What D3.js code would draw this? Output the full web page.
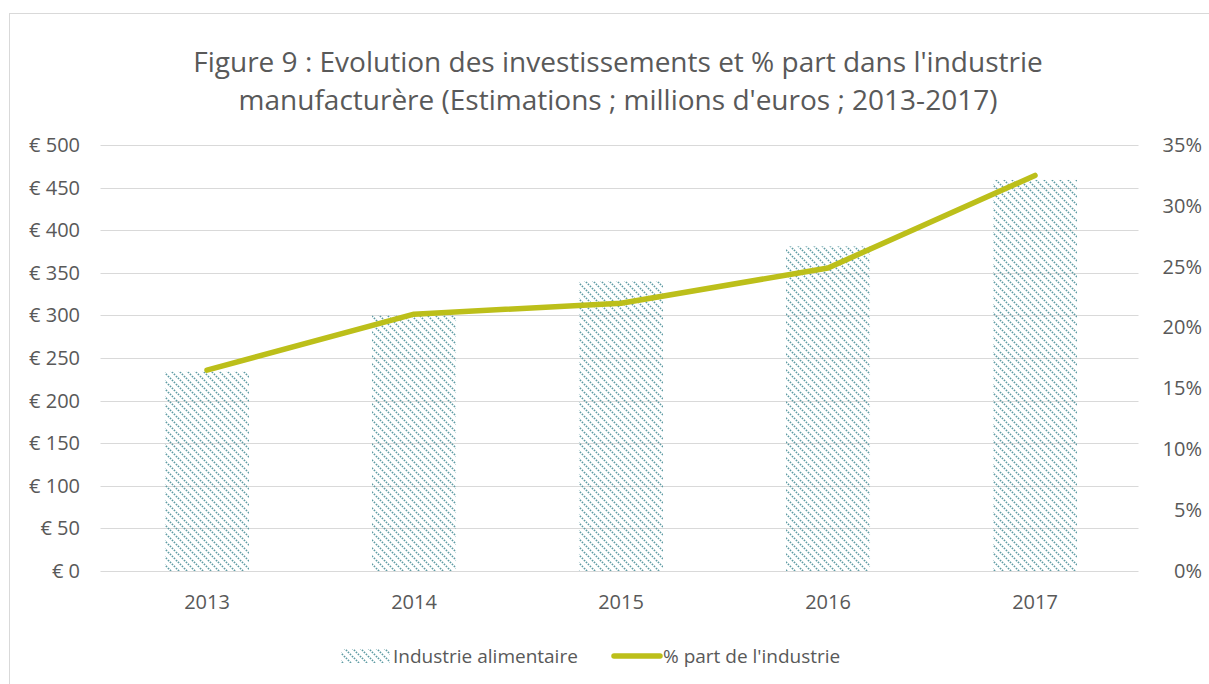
<!DOCTYPE html>
<html><head><meta charset="utf-8">
<script src="https://cdn.jsdelivr.net/npm/d3@7"></script>
<style>body{margin:0;background:#fff;}text{font-family:"Open Sans",sans-serif;fill:#595959;}</style>
</head><body>
<svg id="c" width="1209" height="684"></svg>
<script>
const categories = ["2013","2014","2015","2016","2017"];
const investments = [234, 300, 340, 381, 459];
const sharePct = [16.5, 21.1, 22.0, 24.9, 32.5];
const leftTicks = [0,50,100,150,200,250,300,350,400,450,500];
const rightTicks = [0,5,10,15,20,25,30,35];
const titleLines = ["Figure 9 : Evolution des investissements et % part dans l'industrie","manufacturère (Estimations ; millions d'euros ; 2013-2017)"];
const legendLabels = ["Industrie alimentaire","% part de l'industrie"];

const svg = d3.select("#c");
const defs = svg.append("defs");
const pat = defs.append("pattern").attr("id","hatch").attr("patternUnits","userSpaceOnUse")
  .attr("width",8).attr("height",8);
pat.append("path").attr("d","M-2,-2 L10,10 M-2,6 L2,10 M6,-2 L10,2")
  .attr("stroke","#5f9ca4").attr("stroke-width",1.7).attr("stroke-dasharray","1.5 1.3");

svg.append("rect").attr("x",9.5).attr("y",13.5).attr("width",1220).attr("height",690)
  .attr("fill","none").attr("stroke","#d9d9d9");

const x0 = 103.5, x1 = 1138.5, yTop = 145, yBot = 571;
const x = d3.scaleBand().domain(categories).range([x0,x1]).paddingInner(0.594).paddingOuter(0.297);
const yL = d3.scaleLinear().domain([0,500]).range([yBot,yTop]);
const yR = d3.scaleLinear().domain([0,35]).range([yBot,yTop]);
const tickFont = 20;

// gridlines
svg.append("g").selectAll("line").data(leftTicks).join("line")
  .attr("x1",x0-3).attr("x2",x1).attr("y1",d=>Math.round(yL(d))+0.5).attr("y2",d=>Math.round(yL(d))+0.5)
  .attr("stroke","#d9d9d9").attr("stroke-width",1);

// left axis
const axL = svg.append("g").attr("transform",`translate(80,0)`)
  .call(d3.axisLeft(yL).tickValues(leftTicks).tickSize(0).tickPadding(0).tickFormat(d=>"€ "+d));
axL.select(".domain").remove();
axL.selectAll("text").attr("font-size",tickFont).style("font-family","'Open Sans',sans-serif").attr("fill","#595959");

// right axis
const axR = svg.append("g").attr("transform",`translate(1202,0)`)
  .call(d3.axisLeft(yR).tickValues(rightTicks).tickSize(0).tickPadding(0).tickFormat(d=>d+"%"));
axR.select(".domain").remove();
axR.selectAll("text").attr("font-size",tickFont).style("font-family","'Open Sans',sans-serif").attr("fill","#595959");

// bars
svg.append("g").selectAll("rect").data(investments).join("rect")
  .attr("x",(d,i)=>x(categories[i])).attr("width",x.bandwidth())
  .attr("y",d=>yL(d)).attr("height",d=>yBot-yL(d)).attr("fill","url(#hatch)");

// x axis
const axX = svg.append("g").attr("transform",`translate(0,${yBot+24})`)
  .call(d3.axisBottom(x).tickSize(0).tickPadding(0));
axX.select(".domain").remove();
axX.selectAll("text").attr("font-size",tickFont).style("font-family","'Open Sans',sans-serif").attr("fill","#595959");

// line
const line = d3.line().x((d,i)=>x(categories[i])+x.bandwidth()/2).y(d=>yR(d));
svg.append("path").datum(sharePct).attr("d",line).attr("fill","none")
  .attr("stroke","#bcbf1a").attr("stroke-width",5.5).attr("stroke-linecap","round").attr("stroke-linejoin","round");

// title
svg.append("text").attr("x",618).attr("text-anchor","middle").attr("font-size",28)
  .selectAll("tspan").data(titleLines).join("tspan").attr("x",618).attr("y",(d,i)=>72+i*38).text(d=>d);

// legend
const lg = svg.append("g");
lg.append("rect").attr("x",341).attr("y",649).attr("width",49).attr("height",14).attr("fill","url(#hatch)");
lg.append("text").attr("x",393).attr("y",663).attr("font-size",19).text(legendLabels[0]);
lg.append("line").attr("x1",614).attr("x2",660).attr("y1",656).attr("y2",656)
  .attr("stroke","#bcbf1a").attr("stroke-width",5.5).attr("stroke-linecap","round");
lg.append("text").attr("x",663).attr("y",663).attr("font-size",19).text(legendLabels[1]);
</script>
</body></html>
